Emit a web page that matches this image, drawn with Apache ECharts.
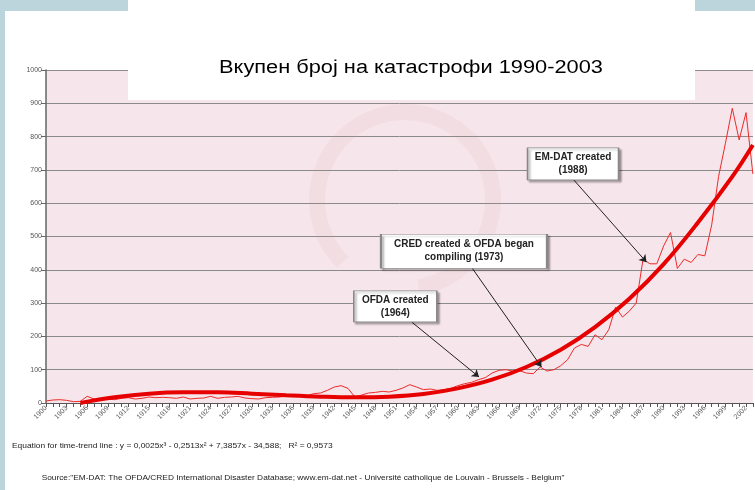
<!DOCTYPE html>
<html><head><meta charset="utf-8">
<script src="https://cdn.jsdelivr.net/npm/echarts@6/dist/echarts.min.js"></script>
<style>html,body{margin:0;padding:0;background:#bcd5dd}#c{width:755px;height:490px}</style>
</head><body><div id="c"></div>
<script>
// ---- data ----
const years = [1900,1901,1902,1903,1904,1905,1906,1907,1908,1909,1910,1911,1912,1913,1914,1915,1916,1917,1918,1919,
1920,1921,1922,1923,1924,1925,1926,1927,1928,1929,1930,1931,1932,1933,1934,1935,1936,1937,1938,1939,
1940,1941,1942,1943,1944,1945,1946,1947,1948,1949,1950,1951,1952,1953,1954,1955,1956,1957,1958,1959,
1960,1961,1962,1963,1964,1965,1966,1967,1968,1969,1970,1971,1972,1973,1974,1975,1976,1977,1978,1979,
1980,1981,1982,1983,1984,1985,1986,1987,1988,1989,1990,1991,1992,1993,1994,1995,1996,1997,1998,1999,
2000,2001,2002,2003];
const disasterCounts = [6,9,10,8,4,5,20,12,9,12,10,14,16,12,14,18,16,17,16,14,
18,12,14,15,20,14,17,18,20,15,13,12,16,17,18,21,22,25,22,28,
30,38,48,52,44,18,24,30,32,35,33,38,45,55,48,40,42,38,40,44,
52,58,62,70,76,90,98,100,96,97,90,88,108,96,100,112,130,165,176,170,
205,190,220,288,258,276,300,432,418,418,472,512,404,432,422,446,442,535,680,780,
885,790,872,688];
const trendYears  = [1905,1910,1915,1920,1925,1930,1935,1940,1945,1950,1955,1960,1965,1970,1975,1980,1985,1990,1995,2000,2003];
const trendValues = [0,17,28,32,32,28,23,19,17,19,27,44,70,108,160,228,313,417,542,680,775];
const yTicks = [0,100,200,300,400,500,600,700,800,900,1000];

const titleText = 'Вкупен број на катастрофи 1990-2003';
const equationText = 'Equation for time-trend line : y = 0,0025x³ - 0,2513x² + 7,3857x - 34,588;   R² = 0,9573';
const sourceText = 'Source:"EM-DAT: The OFDA/CRED International Disaster Database; www.em-dat.net - Université catholique de Louvain - Brussels - Belgium"';

const annotationTexts = ['OFDA created\n(1964)', 'CRED created & OFDA began\ncompiling (1973)', 'EM-DAT created\n(1988)'];
const annotationBox   = [[1950.9, 290], [1960.9, 456], [1976.8, 718]];
const annotationSize  = [[83, 31], [166, 34], [91, 32]];
const arrowFrom = [[1953.3, 243], [1962.1, 405], [1976.9, 670]];
const arrowTo   = [[1963.1, 78], [1972.2, 108], [1987.5, 423]];

// ---- chart ----
const chart = echarts.init(document.getElementById('c'), null, {renderer:'canvas'});
const FONT = 'Liberation Sans, Arial, sans-serif';

chart.setOption({
  backgroundColor: '#bcd5dd',
  animation: false,
  graphic: [
    {type:'rect', z:-10, shape:{x:5, y:11, width:750, height:479}, style:{fill:'#ffffff'}},
    {type:'arc', z:1, silent:true, shape:{cx:405, cy:200, r:88, startAngle:Math.PI*0.75, endAngle:Math.PI*2.45},
      style:{stroke:'rgba(215,140,150,0.09)', lineWidth:16, fill:null}},
    {type:'rect', z:100, shape:{x:128, y:0, width:567, height:100}, style:{fill:'#ffffff'}},
    {type:'text', z:101, x:411, y:68, scaleX:1.21, style:{text:titleText, fill:'#000', font:'18px '+FONT, textAlign:'center', textVerticalAlign:'middle'}},
    {type:'text', z:101, x:12, y:446, scaleX:1.05, style:{text:equationText, fill:'#222', font:'8px '+FONT, textVerticalAlign:'middle'}},
    {type:'text', z:101, x:303, y:478, scaleX:1.04, style:{text:sourceText, fill:'#222', font:'8px '+FONT, textAlign:'center', textVerticalAlign:'middle'}}
  ],
  grid: {left:46, right:0, top:70, bottom:87, show:true, backgroundColor:'#f6e5ea', borderWidth:0},
  xAxis: {
    type:'value', min:1900, max:2003, interval:3,
    axisLine:{show:true, onZero:false, lineStyle:{color:'#555', width:1}},
    axisTick:{show:true, length:4, lineStyle:{color:'#555'}},
    minorTick:{show:true, splitNumber:3, length:4, lineStyle:{color:'#555'}},
    splitLine:{show:false},
    axisLabel:{rotate:45, fontSize:7, color:'#555', fontFamily:FONT, margin:4,
      formatter: v => ((v-1900)%3===0 ? String(v) : '')}
  },
  yAxis: {
    type:'value', min:0, max:1000, interval:100,
    axisLine:{show:true, lineStyle:{color:'#666', width:1.5}},
    axisTick:{show:true, length:5, lineStyle:{color:'#666'}},
    splitLine:{show:true, lineStyle:{color:'#8a8a8a', width:1}},
    axisLabel:{fontSize:7, color:'#555', fontFamily:FONT, margin:4,
      formatter: v => (yTicks.indexOf(v) >= 0 ? String(v) : '')}
  },
  series: [
    {
      type:'line', data: years.map((y,i)=>[y, disasterCounts[i]]),
      showSymbol:false, lineStyle:{color:'#ec2a2a', width:1}, z:3,
      markLine:{
        silent:true, symbol:['none','arrow'], symbolSize:7,
        lineStyle:{color:'#222', width:1, type:'solid'}, label:{show:false},
        data: arrowFrom.map((f,i)=>[{coord:f}, {coord:arrowTo[i]}])
      },
      markPoint:{
        silent:true,
        data: annotationBox.map((c,i)=>({
          coord:c, symbol:'rect', symbolSize:annotationSize[i],
          itemStyle:{color:'#fff', borderColor:'#888', borderWidth:1, shadowColor:'rgba(0,0,0,0.3)', shadowBlur:2, shadowOffsetX:2, shadowOffsetY:2},
          label:{show:true, position:'inside', formatter:annotationTexts[i], color:'#222', fontWeight:'bold', fontSize:10, lineHeight:13, fontFamily:FONT}
        }))
      }
    },
    {
      type:'line', data: trendYears.map((y,i)=>[y, trendValues[i]]),
      smooth:0.4, showSymbol:false, lineStyle:{color:'#e60000', width:4}, z:4
    }
  ]
});
</script></body></html>
